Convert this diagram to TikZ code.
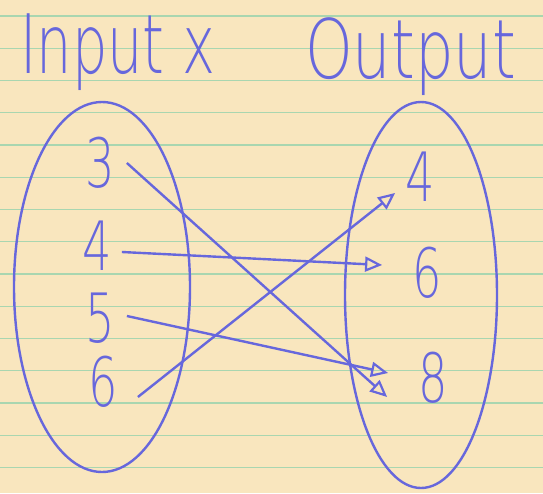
\documentclass[tikz,border=0pt]{standalone}
\usepackage{fontspec}
\usepackage{tikz}
\usetikzlibrary{arrows.meta,shapes.geometric}
\newfontfamily\handfont[FakeStretch=0.68]{DejaVu Sans ExtraLight}
\definecolor{pPaper}{HTML}{F9E6BE}
\definecolor{pRule}{HTML}{A9D6B0}
\definecolor{pInk}{HTML}{6767DC}

\begin{document}
\begin{tikzpicture}[
    x=1pt,y=-1pt,
    title/.style={text=pInk,inner sep=0pt,anchor=base west,font=\handfont\fontsize{82}{82}\selectfont},
    num/.style={text=pInk,inner sep=0pt,font=\handfont\fontsize{68}{68}\selectfont},
    set/.style={draw=pInk,line width=2.4pt,ellipse,inner sep=0pt},
    map/.style={draw=pInk,line width=2.4pt,-{Triangle[open,length=17pt,width=15pt,line width=2.2pt]}}
  ]
    % paper
    \fill[pPaper] (0,0) rectangle (543,493);
    \useasboundingbox (0,0) rectangle (543,493);
    \foreach \k in {0,...,14}
      \draw[pRule,line width=1.3pt] (0,16+32.25*\k) -- (543,16+32.25*\k);

    \node[title] (intitle)  at (20,73) {Input x};
    \node[title] (outtitle) at (305,78) {\addfontfeatures{FakeStretch=0.74}Output};

    \node[set,minimum width=176pt,minimum height=370pt] (inset)  at (102,287) {};
    \node[set,minimum width=152pt,minimum height=386pt] (outset) at (421,295) {};

    \node[num] (in3) at (100,163) {3};
    \node[num] (in4) at (97,246)  {4};
    \node[num] (in5) at (100,318) {5};
    \node[num] (in6) at (103,382) {6};

    \node[num] (out4) at (420,177) {4};
    \node[num] (out6) at (427,273) {6};
    \node[num] (out8) at (433,378) {8};

    \draw[map] ([xshift=12pt]in3.east) -- ([xshift=-31pt,yshift=-19pt]out8.west);
    \draw[map] ([xshift=10pt,yshift=-6pt]in4.east) -- ([xshift=-30pt,yshift=8pt]out6.west);
    \draw[map] ([xshift=12pt,yshift=2pt]in5.east) -- ([xshift=-30pt,yshift=5pt]out8.west);
    \draw[map] ([xshift=20pt,yshift=-15pt]in6.east) -- ([xshift=-10pt,yshift=-16pt]out4.west);
  \end{tikzpicture}
\end{document}
